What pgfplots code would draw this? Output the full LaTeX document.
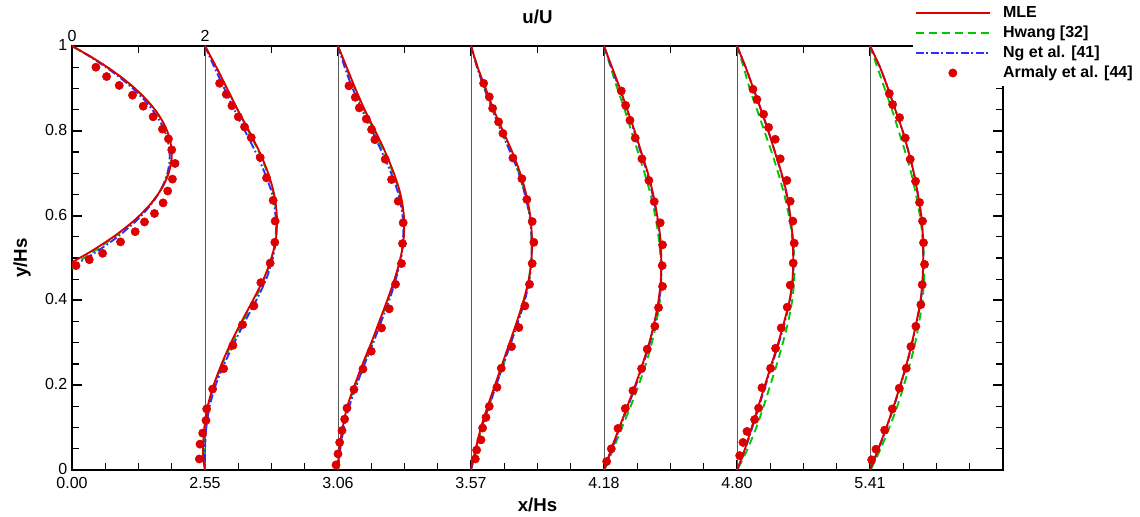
\documentclass[border=0pt]{standalone}
\usepackage{fontspec}
\setmainfont{Liberation Sans}
\usepackage{pgfplots}
\usepackage{pgfplotstable}
\pgfplotsset{compat=1.18}
\definecolor{mred}{RGB}{220,0,0}
\definecolor{mgreen}{RGB}{0,200,0}
\definecolor{mblue}{RGB}{45,45,255}

% station curves: y, MLE (m), Hwang (h), Ng (n) -- u/U values
\pgfplotstableread{
y m h n
1.00 0 0 0
0.95 0.17 0.17 0.14
0.90 0.33 0.33 0.29
0.85 0.49 0.49 0.44
0.80 0.66 0.65 0.60
0.75 0.82 0.81 0.76
0.70 0.95 0.94 0.90
0.65 1.04 1.03 1.01
0.60 1.08 1.07 1.06
0.55 1.07 1.06 1.07
0.50 1.00 1.00 1.02
0.45 0.88 0.89 0.92
0.40 0.72 0.74 0.77
0.35 0.55 0.57 0.60
0.30 0.39 0.41 0.44
0.25 0.25 0.26 0.29
0.20 0.13 0.14 0.16
0.15 0.04 0.05 0.07
0.10 -0.01 0.0 0.02
0.05 -0.03 -0.01 0.0
0.02 -0.02 -0.005 0.0
0.00 0 0 0
}\stA
\pgfplotstableread{
y m h n
1.00 0 0 0
0.95 0.13 0.12 0.10
0.90 0.26 0.25 0.22
0.85 0.40 0.39 0.36
0.80 0.56 0.54 0.51
0.75 0.71 0.69 0.66
0.70 0.84 0.83 0.80
0.65 0.94 0.93 0.91
0.60 0.99 0.98 0.97
0.55 0.99 0.99 0.98
0.50 0.94 0.94 0.95
0.45 0.85 0.86 0.87
0.40 0.74 0.75 0.77
0.35 0.62 0.63 0.65
0.30 0.50 0.51 0.53
0.25 0.37 0.38 0.40
0.20 0.25 0.26 0.28
0.15 0.14 0.15 0.17
0.10 0.07 0.075 0.09
0.05 0.02 0.025 0.035
0.00 0 0 0
}\stB
\pgfplotstableread{
y m h n
1.00 0 0 0
0.95 0.10 0.10 0.09
0.90 0.22 0.21 0.20
0.85 0.34 0.33 0.32
0.80 0.48 0.46 0.45
0.75 0.62 0.60 0.59
0.70 0.74 0.72 0.72
0.65 0.83 0.82 0.81
0.60 0.89 0.88 0.88
0.55 0.915 0.91 0.91
0.50 0.91 0.91 0.91
0.45 0.87 0.87 0.88
0.40 0.79 0.80 0.81
0.35 0.69 0.70 0.71
0.30 0.58 0.60 0.60
0.25 0.47 0.49 0.49
0.20 0.36 0.38 0.38
0.15 0.25 0.27 0.27
0.10 0.15 0.16 0.16
0.05 0.07 0.08 0.08
0.00 0 0 0
}\stC
\pgfplotstableread{
y m h n
1.00 0 0 0
0.95 0.12 0.10 0.11
0.90 0.24 0.20 0.23
0.85 0.35 0.31 0.34
0.80 0.46 0.41 0.45
0.75 0.56 0.51 0.55
0.70 0.66 0.61 0.65
0.65 0.74 0.70 0.73
0.60 0.80 0.77 0.795
0.55 0.845 0.82 0.84
0.50 0.86 0.85 0.86
0.45 0.855 0.86 0.86
0.40 0.82 0.84 0.83
0.35 0.76 0.79 0.77
0.30 0.68 0.72 0.69
0.25 0.58 0.63 0.59
0.20 0.47 0.52 0.48
0.15 0.35 0.40 0.36
0.10 0.23 0.27 0.24
0.05 0.11 0.14 0.12
0.00 0 0.01 0
}\stD
\pgfplotstableread{
y m h n
1.00 0 0 0
0.95 0.13 0.10 0.13
0.90 0.245 0.19 0.245
0.85 0.36 0.30 0.36
0.80 0.47 0.41 0.47
0.75 0.57 0.52 0.57
0.70 0.67 0.62 0.665
0.65 0.75 0.71 0.745
0.60 0.80 0.78 0.80
0.55 0.835 0.83 0.835
0.50 0.845 0.86 0.85
0.45 0.835 0.86 0.84
0.40 0.79 0.83 0.795
0.35 0.71 0.77 0.72
0.30 0.62 0.69 0.63
0.25 0.52 0.60 0.53
0.20 0.42 0.50 0.43
0.15 0.32 0.40 0.33
0.10 0.22 0.29 0.23
0.05 0.12 0.16 0.125
0.02 0.05 0.07 0.05
0.00 0 0 0
}\stE
\pgfplotstableread{
y m h n
1.00 0 0 0
0.95 0.15 0.11 0.15
0.90 0.27 0.22 0.27
0.85 0.38 0.33 0.38
0.80 0.49 0.43 0.49
0.75 0.58 0.53 0.58
0.70 0.66 0.62 0.66
0.65 0.72 0.69 0.72
0.60 0.77 0.75 0.77
0.55 0.795 0.79 0.795
0.50 0.80 0.81 0.80
0.45 0.79 0.81 0.795
0.40 0.76 0.79 0.765
0.35 0.70 0.74 0.705
0.30 0.63 0.68 0.635
0.25 0.55 0.60 0.555
0.20 0.455 0.51 0.46
0.15 0.355 0.41 0.36
0.10 0.245 0.29 0.25
0.05 0.125 0.16 0.13
0.00 0 0.01 0
}\stF

% Armaly et al. experimental points: u/U, y/Hs
\pgfplotstableread{
u y
0.36 0.950
0.52 0.928
0.71 0.907
0.91 0.884
1.07 0.858
1.22 0.833
1.36 0.804
1.45 0.781
1.50 0.755
1.55 0.723
1.51 0.686
1.44 0.658
1.37 0.630
1.24 0.605
1.09 0.585
0.95 0.562
0.73 0.538
0.46 0.511
0.26 0.496
0.06 0.482
}\pO
\pgfplotstableread{
u y
0.22 0.912
0.32 0.886
0.405 0.859
0.50 0.833
0.595 0.809
0.695 0.784
0.83 0.737
0.925 0.689
1.025 0.636
1.055 0.587
1.05 0.537
0.98 0.488
0.84 0.442
0.735 0.387
0.565 0.343
0.42 0.294
0.28 0.239
0.115 0.191
0.025 0.144
0.015 0.117
-0.035 0.087
-0.075 0.061
-0.085 0.026
}\pA
\pgfplotstableread{
u y
0.165 0.906
0.26 0.879
0.32 0.854
0.425 0.828
0.505 0.803
0.555 0.779
0.71 0.733
0.805 0.685
0.905 0.634
0.98 0.583
0.97 0.534
0.955 0.487
0.865 0.438
0.77 0.380
0.655 0.335
0.50 0.280
0.375 0.238
0.24 0.190
0.135 0.146
0.10 0.120
0.06 0.093
0.025 0.065
0.0 0.038
-0.03 0.012
}\pB
\pgfplotstableread{
u y
0.19 0.912
0.275 0.880
0.325 0.853
0.415 0.821
0.48 0.794
0.63 0.736
0.765 0.687
0.84 0.638
0.92 0.586
0.945 0.537
0.92 0.487
0.88 0.438
0.81 0.387
0.72 0.336
0.61 0.291
0.455 0.240
0.39 0.195
0.275 0.150
0.225 0.124
0.175 0.099
0.15 0.071
0.085 0.047
0.065 0.026
}\pC
\pgfplotstableread{
u y
0.26 0.894
0.325 0.860
0.39 0.825
0.47 0.783
0.57 0.734
0.675 0.683
0.755 0.633
0.845 0.583
0.88 0.531
0.875 0.482
0.88 0.433
0.82 0.383
0.765 0.339
0.65 0.285
0.565 0.239
0.435 0.187
0.32 0.145
0.21 0.098
0.11 0.050
0.04 0.020
}\pD
\pgfplotstableread{
u y
0.24 0.898
0.30 0.874
0.40 0.839
0.475 0.808
0.575 0.780
0.65 0.734
0.75 0.683
0.80 0.634
0.84 0.587
0.86 0.535
0.845 0.488
0.80 0.436
0.755 0.384
0.665 0.335
0.58 0.287
0.505 0.240
0.375 0.194
0.325 0.146
0.265 0.119
0.15 0.091
0.09 0.065
0.04 0.034
}\pE
\pgfplotstableread{
u y
0.29 0.888
0.34 0.862
0.445 0.831
0.53 0.783
0.605 0.733
0.685 0.681
0.745 0.631
0.79 0.587
0.805 0.536
0.82 0.485
0.785 0.437
0.765 0.390
0.69 0.339
0.615 0.291
0.545 0.240
0.44 0.193
0.335 0.144
0.22 0.094
0.09 0.049
0.025 0.024
}\pF

\pgfplotsset{
  mle/.style={mred, line width=1.4pt, smooth},
  hw/.style={mgreen, line width=1.4pt, dash pattern=on 6pt off 3.8pt, smooth},
  ng/.style={mblue, line width=1.4pt, dash pattern=on 6pt off 2pt on 1.3pt off 2pt, smooth},
  arm/.style={only marks, mark=*, mark size=3.1pt, mred, mark options={draw=mred, fill=mred}},
  stline/.style={forget plot, black!65, line width=0.6pt},
  lineleg/.style={legend image code/.code={\draw[##1] (0pt,0pt) -- (56pt,0pt);}},
  armleg/.style={legend image code/.code={\draw[mark repeat=2,mark phase=2,##1] plot coordinates {(0pt,0pt) (28pt,0pt) (56pt,0pt)};}},
}

\begin{document}
\begin{tikzpicture}
\useasboundingbox (-54pt,-35.25pt) rectangle (801pt,352.5pt);
% top axis (u/U)
\begin{axis}[
  scale only axis, width=698.25pt, height=318pt,
  xmin=0, xmax=14, ymin=0, ymax=1,
  axis x line*=top, axis y line=none,
  xtick={0,2,4,6,8,10,12,14}, xticklabels={0,2},
  minor xtick={1,3,5,7,9,11,13},
  xtick pos=right, xticklabel pos=right,
  ytick=\empty,
  tick align=inside,
  major tick length=7.5pt, minor tick length=5pt,
  every major tick/.append style={line width=1.5pt, black},
  every minor tick/.append style={line width=0.8pt, black},
  axis line style={line width=1.8pt},
  tick label style={font=\fontsize{12}{14}\selectfont},
  /pgf/number format/assume math mode=true,
  xlabel={\textbf{u/U}},
  xlabel style={font=\fontsize{14}{16}\selectfont, at={(axis description cs:0.5,1.068)}, anchor=center},
]
\addplot[draw=none, forget plot] coordinates {(0,0) (14,1)};
\end{axis}
% main axis
\begin{axis}[
  scale only axis, width=698.25pt, height=318pt,
  xmin=0, xmax=14, ymin=0, ymax=1,
  axis line style={line width=1.8pt},
  xtick={0,2,4,6,8,10,12}, xticklabels={0.00,2.55,3.06,3.57,4.18,4.80,5.41},
  minor xtick={0.5,1,1.5,2.5,3,3.5,4.5,5,5.5,6.5,7,7.5,8.5,9,9.5,10.5,11,11.5,12.5,13,13.5},
  xtick pos=left,
  ytick={0,0.2,0.4,0.6,0.8,1},
  minor ytick={0.05,0.1,0.15,0.25,0.3,0.35,0.45,0.5,0.55,0.65,0.7,0.75,0.85,0.9,0.95},
  ytick pos=both, yticklabel pos=left,
  tick align=inside,
  major tick length=7.5pt, minor tick length=5pt,
  every major tick/.append style={line width=1.5pt, black},
  every minor tick/.append style={line width=0.8pt, black},
  tick label style={font=\fontsize{12}{14}\selectfont},
  xticklabel style={yshift=-2.2pt},
  yticklabel style={yshift=0.8pt},
  /pgf/number format/assume math mode=true,
  xlabel={\textbf{x/Hs}}, ylabel={\textbf{y/Hs}},
  label style={font=\fontsize{14}{16}\selectfont},
  xlabel style={at={(axis description cs:0.5,-0.082)}, anchor=center},
  ylabel style={at={(axis description cs:-0.0537,0.5)}, anchor=center},
  legend style={at={(axis description cs:0.9033,1.108)}, anchor=north west,
    fill=white, draw=none, inner xsep=1pt, inner ysep=4pt,
    font=\bfseries\fontsize{12}{14}\selectfont, row sep=4.2pt,
    nodes={inner sep=0pt, text height=8.6pt, text depth=2.2pt},
    /tikz/every odd column/.append style={column sep=9pt}},
  legend cell align=left,
]
\addlegendimage{mle, lineleg}
\addlegendentry{MLE}
\addlegendimage{hw, lineleg}
\addlegendentry{Hwang [32]}
\addlegendimage{ng, lineleg}
\addlegendentry{Ng et al. [41]}
\addlegendimage{arm, armleg}
\addlegendentry{Armaly et al. [44]}

% station lines
\addplot[stline] coordinates {(2,0) (2,1)};
\addplot[stline] coordinates {(4,0) (4,1)};
\addplot[stline] coordinates {(6,0) (6,1)};
\addplot[stline] coordinates {(8,0) (8,1)};
\addplot[stline] coordinates {(10,0) (10,1)};
\addplot[stline] coordinates {(12,0) (12,1)};

% station 0 (inlet)
\addplot[hw, forget plot] coordinates {(0,0.475) (0.09,0.49) (0.18,0.50) (0.37,0.52) (0.64,0.55) (0.88,0.58) (1.02,0.60) (1.17,0.625) (1.29,0.65) (1.385,0.675) (1.45,0.70) (1.488,0.725) (1.497,0.745) (1.476,0.775) (1.427,0.80) (1.349,0.825) (1.243,0.85) (1.107,0.875) (0.943,0.90) (0.750,0.925) (0.528,0.95) (0.278,0.975) (0,1.0)};
\addplot[ng, forget plot] coordinates {(0,0.48) (0.111,0.49) (0.217,0.50) (0.417,0.52) (0.685,0.55) (0.913,0.58) (1.044,0.60) (1.182,0.625) (1.294,0.65) (1.378,0.675) (1.435,0.70) (1.465,0.725) (1.47,0.74) (1.443,0.775) (1.392,0.80) (1.313,0.825) (1.207,0.85) (1.074,0.875) (0.913,0.90) (0.726,0.925) (0.511,0.95) (0.269,0.975) (0,1.0)};
\addplot[mle, forget plot] coordinates {(0,0.49) (0.115,0.50) (0.332,0.52) (0.623,0.55) (0.872,0.58) (1.015,0.60) (1.168,0.625) (1.292,0.65) (1.387,0.675) (1.453,0.70) (1.491,0.725) (1.5,0.745) (1.479,0.775) (1.430,0.80) (1.352,0.825) (1.246,0.85) (1.110,0.875) (0.946,0.90) (0.753,0.925) (0.531,0.95) (0.280,0.975) (0,1.0)};

% stations 1-6
\addplot[hw, forget plot] table[x expr=\thisrow{h}+2, y=y] {\stA};
\addplot[ng, forget plot] table[x expr=\thisrow{n}+2, y=y] {\stA};
\addplot[mle, forget plot] table[x expr=\thisrow{m}+2, y=y] {\stA};
\addplot[hw, forget plot] table[x expr=\thisrow{h}+4, y=y] {\stB};
\addplot[ng, forget plot] table[x expr=\thisrow{n}+4, y=y] {\stB};
\addplot[mle, forget plot] table[x expr=\thisrow{m}+4, y=y] {\stB};
\addplot[hw, forget plot] table[x expr=\thisrow{h}+6, y=y] {\stC};
\addplot[ng, forget plot] table[x expr=\thisrow{n}+6, y=y] {\stC};
\addplot[mle, forget plot] table[x expr=\thisrow{m}+6, y=y] {\stC};
\addplot[hw, forget plot] table[x expr=\thisrow{h}+8, y=y] {\stD};
\addplot[ng, forget plot] table[x expr=\thisrow{n}+8, y=y] {\stD};
\addplot[mle, forget plot] table[x expr=\thisrow{m}+8, y=y] {\stD};
\addplot[hw, forget plot] table[x expr=\thisrow{h}+10, y=y] {\stE};
\addplot[ng, forget plot] table[x expr=\thisrow{n}+10, y=y] {\stE};
\addplot[mle, forget plot] table[x expr=\thisrow{m}+10, y=y] {\stE};
\addplot[hw, forget plot] table[x expr=\thisrow{h}+12, y=y] {\stF};
\addplot[ng, forget plot] table[x expr=\thisrow{n}+12, y=y] {\stF};
\addplot[mle, forget plot] table[x expr=\thisrow{m}+12, y=y] {\stF};

% experimental points
\addplot[arm, forget plot] table[x=u, y=y] {\pO};
\addplot[arm, forget plot] table[x expr=\thisrow{u}+2, y=y] {\pA};
\addplot[arm, forget plot] table[x expr=\thisrow{u}+4, y=y] {\pB};
\addplot[arm, forget plot] table[x expr=\thisrow{u}+6, y=y] {\pC};
\addplot[arm, forget plot] table[x expr=\thisrow{u}+8, y=y] {\pD};
\addplot[arm, forget plot] table[x expr=\thisrow{u}+10, y=y] {\pE};
\addplot[arm, forget plot] table[x expr=\thisrow{u}+12, y=y] {\pF};
\end{axis}
\end{tikzpicture}
\end{document}
